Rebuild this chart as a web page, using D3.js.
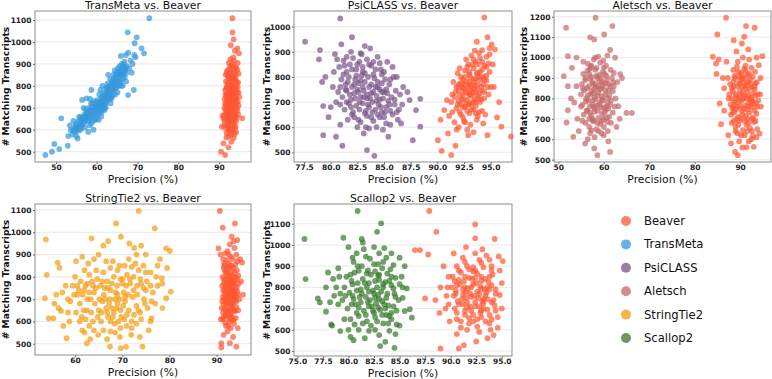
<!DOCTYPE html>
<html>
<head>
<meta charset="utf-8">
<script src="https://cdn.jsdelivr.net/npm/d3@7"></script>
<style>
  body { margin: 0; background: #fff; }
  svg { display: block; font-family: "DejaVu Sans", sans-serif; }
</style>
</head>
<body>
<div id="chart"></div>
<script>
// ---- data: [precision %, matching transcripts] ----
var transMetaPts = [[47.4,485],[49.0,500],[49.6,535],[50.8,512],[51.3,652],[52.9,527],[53.0,571],[53.6,598],[53.4,620],
  [54.0,578],[54.3,640],[54.6,590],[54.8,605],[55.0,572],[55.2,615],[55.5,640],[55.8,598],[55.3,560],[54.9,625],[55.7,660],[56.0,622],
  [56.2,605],[56.4,736],[56.5,645],[56.7,630],[56.9,668],[57.1,610],[57.3,650],[57.5,743],[57.6,678],[57.8,640],[57.9,590],[57.2,690],[56.8,700],[57.7,660],
  [58.0,700],[58.2,655],[58.3,620],[58.5,682],[58.6,720],[58.8,660],[59.0,705],[59.1,640],[59.3,690],[59.4,730],[59.6,668],[59.8,712],[59.9,650],[58.7,781],[59.2,600],[58.4,740],
  [60.0,690],[60.1,735],[60.3,670],[60.4,710],[60.6,760],[60.7,700],[60.9,781],[61.0,725],[61.2,680],[61.3,750],[61.5,705],[61.6,770],[61.8,735],[61.9,690],[60.5,645],[61.4,800],[61.1,660],
  [62.0,760],[62.1,720],[62.3,790],[62.4,745],[62.6,810],[62.7,770],[62.9,740],[63.0,800],[63.2,760],[63.3,830],[63.5,785],[63.6,745],[63.8,820],[63.9,775],[62.2,700],[62.8,850],[63.4,720],
  [64.0,810],[64.1,850],[64.3,790],[64.4,870],[64.6,830],[64.7,800],[64.9,860],[65.0,820],[65.2,880],[65.3,845],[65.5,800],[65.6,890],[65.8,850],[65.9,936],[64.5,760],[65.1,770],
  [66.0,870],[66.2,900],[66.3,830],[66.5,880],[66.6,850],[66.8,910],[67.0,870],[67.2,820],[67.4,890],[67.7,951],[67.6,1044],[67.7,758],[66.4,800],[67.1,940],
  [68.0,880],[68.3,915],[68.6,860],[69.1,781],[69.2,941],[69.3,994],[69.8,1021],[69.5,930],[71.0,971],[71.6,948],[72.9,1108],[68.8,900],
  [54.2,600],[54.7,615],[55.1,595],[55.6,612],[56.1,640],[56.3,620],[56.6,655],[57.0,635],[57.4,665],[57.8,675],[58.1,645],[58.4,690],[58.9,675],[59.2,665],[59.5,700],[59.7,685],
  [60.0,715],[60.2,700],[60.5,690],[60.8,730],[61.0,700],[61.2,745],[61.4,720],[61.7,710],[61.9,755],[62.1,740],[62.3,725],[62.5,765],[62.7,750],[62.9,780],[63.1,745],[63.3,770],
  [63.5,800],[63.7,790],[63.9,755],[64.1,780],[64.3,815],[64.5,800],[64.7,845],[64.9,825],[65.1,800],[65.3,860],[65.5,835],[65.7,870],[65.9,820],[66.1,850],[66.3,865],[66.5,895],
  [66.7,870],[66.9,840],[67.1,885],[67.3,860],[60.3,725],[61.6,740],[62.4,790],[63.0,765],[63.6,810],[64.2,835],[59.0,720],[58.0,680],[57.0,660],[56.0,655],[55.0,610],[60.6,675],
  [61.3,690],[62.0,705],[59.6,645],[58.7,630],[64.8,790],[65.6,815],[66.0,800],[63.4,740]];

var beaverVsTransMeta = [[93.3,1108],[93.3,1044],[93.6,1012],[94.5,971],[94.9,948],[93.9,960],[92.9,985],[93.5,930],[90.5,500],[91.5,485],[95.7,652],[90.7,614],[91.1,538],[92.3,520],[93.0,545],[91.8,565],[93.8,580],[92.6,595],
  [92.4,905],[93.1,890],[93.7,915],[94.2,885],[92.8,920],[93.4,898],[94.6,905],
  [91.9,860],[92.5,875],[93.0,845],[93.6,868],[94.1,850],[94.5,872],[92.2,842],[93.3,880],[94.8,855],
  [91.7,820],[92.1,805],[92.6,830],[93.0,812],[93.4,836],[93.8,805],[94.2,825],[94.7,815],[92.4,800],[93.2,825],[94.0,838],
  [91.5,780],[91.9,795],[92.3,770],[92.7,788],[93.1,765],[93.5,792],[93.9,775],[94.3,790],[94.8,770],[92.0,762],[93.3,778],[94.1,760],[92.9,800],
  [91.4,740],[91.8,755],[92.2,730],[92.6,748],[93.0,725],[93.4,752],[93.8,735],[94.2,745],[94.6,728],[95.0,750],[92.4,720],[93.6,760],[92.9,740],
  [91.3,700],[91.7,715],[92.1,690],[92.5,708],[92.9,685],[93.3,712],[93.7,695],[94.1,705],[94.5,688],[92.3,680],[93.5,720],[94.8,710],[91.9,685],
  [91.2,660],[91.6,672],[92.0,648],[92.4,665],[92.8,652],[93.2,675],[93.6,645],[94.0,668],[94.4,655],[91.4,640],[93.0,640],[94.7,670],[92.6,678],
  [91.3,620],[91.7,605],[92.1,630],[92.5,612],[92.9,625],[93.3,600],[93.7,635],[94.1,615],[92.7,640],[91.1,650],[90.9,665],
  [91.9,585],[92.4,570],[93.2,590],[93.6,562],[94.2,588],[92.8,578],
  [91.6,850],[92.0,870],[92.4,835],[92.8,860],[93.2,845],[93.6,830],[94.0,880],[94.4,815],[91.8,790],[92.2,815],[92.6,800],[93.0,790],[93.4,810],[93.8,795],[94.2,780],[94.6,795],
  [91.6,760],[92.0,740],[92.4,755],[92.8,770],[93.2,745],[93.6,775],[94.0,750],[94.4,770],[91.5,720],[91.9,730],[92.3,745],[92.7,725],[93.1,705],[93.5,735],[93.9,715],[94.3,725],
  [91.6,690],[92.0,705],[92.4,695],[92.8,700],[93.2,690],[93.6,705],[94.0,685],[94.4,700],[91.8,660],[92.2,675],[92.6,660],[93.0,670],[93.4,655],[93.8,680],[94.2,640],[92.0,620],
  [92.8,610],[93.5,620],[92.3,600],[93.9,605],[92.7,890],[93.5,855],[92.1,760],[93.0,760],[93.7,740],[92.5,785],[93.3,730],[92.9,715],[91.9,710],[94.1,740],[92.3,650],[93.1,640],[93.9,660]];

var psiClassPts = [[77.6,940],[79.0,907],[78.9,870],[80.9,1033],[82.0,958],[80.4,891],[81.0,930],[83.2,923],[83.7,914],[79.3,684],[79.3,568],[80.5,562],[81.1,526],[83.4,509],[84.1,486],[85.4,562],[87.7,548],[88.4,602],[88.0,668],[88.4,713],[87.4,708],[86.6,615],[79.2,780],[79.5,800],[80.2,760],[80.0,680],[79.8,640],[80.9,610],
  [80.8,840],[81.2,865],[81.5,820],[81.8,850],[82.1,875],[82.4,830],[82.7,860],[83.0,840],[83.4,870],[83.8,845],[84.2,830],[84.6,855],[85.0,820],
  [81.0,790],[81.4,770],[81.7,800],[82.0,760],[82.3,790],[82.6,775],[82.9,805],[83.2,780],[83.5,800],[83.8,770],[84.1,795],[84.4,780],[84.8,810],[85.1,790],[85.5,770],[85.9,800],
  [80.7,740],[81.1,720],[81.5,745],[81.9,710],[82.2,735],[82.5,750],[82.8,720],[83.1,745],[83.4,730],[83.7,715],[84.0,740],[84.3,725],[84.6,750],[84.9,715],[85.3,735],[85.7,720],[86.1,745],[86.5,730],
  [80.9,690],[81.3,670],[81.7,695],[82.1,660],[82.4,685],[82.7,670],[83.0,695],[83.3,665],[83.6,680],[83.9,700],[84.2,670],[84.5,690],[84.8,660],[85.2,680],[85.6,665],[86.0,690],[86.4,670],
  [81.6,630],[82.2,640],[82.8,620],[83.4,645],[84.0,625],[84.6,640],[85.2,615],[85.8,650],[86.3,630],[82.5,600],[83.6,595],[84.9,590],
  [81.9,900],[82.8,895],[84.4,880],[85.3,860],[86.2,800],[86.8,760],[87.2,740],[80.3,820],[80.6,870],[85.8,840],[83.1,575],[84.3,600],
  [81.2,810],[81.6,780],[82.0,830],[82.4,805],[82.8,785],[83.2,815],[83.6,760],[84.0,810],[84.4,760],[84.8,775],[85.2,750],[85.6,790],[81.4,750],[81.8,730],[82.2,770],[82.6,740],
  [83.0,760],[83.4,715],[83.8,735],[84.2,760],[84.6,710],[85.0,740],[85.4,705],[81.5,700],[81.9,680],[82.3,715],[82.7,700],[83.1,720],[83.5,690],[83.9,660],[84.3,705],[84.7,680],
  [85.1,660],[85.5,690],[82.0,650],[82.6,630],[83.2,655],[83.8,640],[84.4,650],[85.0,640],[81.3,845],[82.5,850],[83.6,850],[84.7,830],[80.9,760],[81.5,880],[86.0,710],[86.7,690],
  [86.2,660],[80.5,700],[82.9,890],[84.0,860],[83.3,600],[85.6,610],[84.8,740],[83.0,820]];

var beaverVsPsiClass = [[94.4,1037],[94.7,958],[93.7,940],[95.1,930],[94.2,907],[90.05,548],[90.4,506],[91.3,489],[91.7,526],[92.9,568],[94.7,568],[96.0,602],[95.6,639],[96.9,563],[90.65,668],[90.9,708],[94.8,854],[95.4,910],[94.9,915],[90.3,630],[91.0,575],[95.3,760],[95.8,700],
  [92.7,870],[93.2,885],[93.6,860],[94.0,875],[94.4,845],[93.9,895],[92.9,850],[94.6,880],
  [92.2,800],[92.6,825],[93.0,810],[93.4,835],[93.8,815],[94.2,830],[94.6,805],[92.4,790],[93.6,795],[94.9,820],[91.9,815],
  [91.8,760],[92.2,775],[92.6,750],[93.0,780],[93.4,755],[93.8,770],[94.2,745],[94.6,785],[92.0,745],[93.2,765],[94.0,790],[91.5,780],[95.0,760],
  [91.6,720],[92.0,705],[92.4,730],[92.8,710],[93.2,725],[93.6,700],[94.0,735],[94.4,715],[91.9,690],[93.0,695],[94.8,730],[91.3,700],[92.6,740],
  [91.4,660],[91.8,675],[92.2,650],[92.6,680],[93.0,655],[93.4,670],[93.8,645],[94.2,665],[92.4,640],[93.6,685],[91.1,645],[94.5,650],
  [91.6,620],[92.0,600],[92.5,625],[93.1,610],[93.7,630],[94.3,615],[92.8,590],[93.4,580],[91.8,590],
  [92.9,760],[93.3,740],[93.7,750],[93.1,800],[93.5,780],[92.5,770],[93.9,720],[92.3,710],[93.5,710],[94.1,760],[92.7,690],[93.3,850],[92.1,835],[94.3,800],[93.0,730],
  [92.3,760],[92.7,780],[93.1,745],[93.5,765],[93.9,800],[94.3,770],[92.1,725],[92.5,710],[92.9,735],[93.3,700],[93.7,725],[94.1,710],[92.4,680],[92.8,665],[93.2,690],[93.6,655],
  [94.0,700],[92.6,800],[93.0,820],[93.4,790],[93.8,850],[94.2,860],[94.6,840],[92.8,840],[93.4,870],[94.0,820],[94.4,790],[92.0,770],[92.2,690],[91.7,740],[93.6,740],[93.2,670],
  [92.6,620],[93.9,660],[94.4,740],[93.0,770],[92.4,755],[93.7,815],[93.1,730],[92.9,690],[91.4,730],[94.7,760],[95.2,850],[94.9,890],[93.5,905],[92.1,660]];

var aletschPts = [[58.2,1195],[51.7,1146],[61.9,1154],[52.1,1007],[51.2,909],[52.1,860],[60.1,1113],[57.0,1099],[57.9,1089],[61.4,1037],[51.8,682],[53.3,612],[55.9,579],[57.9,555],[58.6,522],[61.4,538],[66.2,729],[65.0,729],[63.2,762],[63.6,919],[52.1,742],[53.0,950],[54.0,1000],[55.5,980],[63.0,880],[64.0,900],[62.5,1000],[60.8,1010],[54.5,640],[56.5,600],[60.0,620],[61.0,590],[62.8,660],[63.5,700],[52.8,800],[53.5,780],[54.2,700],[54.0,860],
  [56.5,970],[57.8,990],[58.8,1005],[59.9,985],[60.5,960],[57.2,955],[59.2,975],
  [55.5,920],[56.4,935],[57.3,905],[58.1,940],[59.0,915],[59.8,930],[60.6,910],[61.5,940],[62.2,925],[56.9,945],[58.6,900],
  [55.2,870],[55.9,890],[56.7,860],[57.5,880],[58.3,855],[59.1,885],[59.9,865],[60.7,890],[61.4,860],[62.1,880],[57.0,895],[58.9,860],[60.3,875],
  [55.0,820],[55.7,840],[56.5,815],[57.3,835],[58.0,805],[58.8,830],[59.6,810],[60.4,840],[61.2,815],[62.0,835],[56.1,800],[59.2,845],[60.9,800],[57.7,825],
  [55.3,770],[56.1,785],[56.9,760],[57.6,790],[58.4,765],[59.2,780],[60.0,755],[60.8,775],[61.6,790],[62.4,760],[58.0,750],[59.6,795],
  [55.6,720],[56.4,740],[57.2,715],[58.0,735],[58.8,705],[59.6,725],[60.4,745],[61.2,710],[57.5,700],[59.9,700],[62.0,730],
  [56.0,680],[56.8,660],[57.6,690],[58.4,650],[59.2,675],[60.0,660],[60.8,685],[58.8,640],[57.3,645],
  [56.0,900],[56.8,920],[57.6,870],[58.4,910],[59.4,900],[60.2,920],[61.0,870],[56.3,850],[57.1,820],[57.9,845],[58.7,815],[59.5,850],[60.3,820],[61.1,840],[56.6,790],[57.4,770],
  [58.2,795],[59.0,770],[59.8,790],[60.6,760],[61.4,770],[56.2,740],[57.0,730],[57.8,760],[58.6,740],[59.4,755],[60.2,730],[61.0,750],[56.8,700],[57.8,690],[58.6,680],[59.6,690],
  [60.6,705],[58.2,870],[59.6,880],[57.2,960],[58.4,950],[60.0,950],[61.8,900],[55.4,850],[55.0,760],[62.6,800],[62.2,860],[57.0,630],[59.5,630],[58.0,610],[55.3,690],[61.6,680],
  [60.9,640],[58.1,1000]];

var beaverVsAletsch = [[86.9,1195],[85.0,1113],[91.3,1154],[93.2,1146],[90.9,1102],[88.6,1085],[90.4,1069],[84.0,1004],[84.7,971],[85.3,991],[94.9,1007],[94.1,963],[85.5,775],[85.8,674],[88.9,538],[89.5,522],[93.0,563],[94.3,628],[84.8,920],[86.2,900],[86.5,850],[87.0,980],[89.2,1030],[91.8,1040],[93.6,1000],[94.5,900],[87.4,620],[88.0,580],[90.5,560],[91.9,590],[93.8,650],[86.5,740],[94.6,760],[94.4,820],
  [88.5,940],[89.3,955],[90.1,925],[90.9,945],[91.7,915],[92.5,950],[93.3,930],[89.8,905],[91.2,960],
  [87.8,870],[88.6,885],[89.4,860],[90.2,890],[91.0,865],[91.8,880],[92.6,855],[93.4,875],[88.2,850],[90.6,895],[92.2,892],
  [87.6,820],[88.4,835],[89.2,810],[90.0,840],[90.8,815],[91.6,830],[92.4,805],[93.2,845],[93.9,820],[89.6,800],[91.2,848],[92.8,825],
  [87.9,770],[88.7,785],[89.5,760],[90.3,790],[91.1,765],[91.9,780],[92.7,755],[93.5,775],[88.3,752],[90.7,798],[92.3,795],
  [88.0,720],[88.8,735],[89.6,710],[90.4,740],[91.2,715],[92.0,730],[92.8,705],[93.6,725],[89.2,748],[91.6,700],
  [88.2,680],[89.0,660],[89.8,690],[90.6,645],[91.4,670],[92.2,655],[93.0,685],[89.4,630],[91.0,620],[92.6,640],
  [90.0,870],[91.4,800],[92.0,850],[89.0,780],[90.5,720],[91.8,760],[92.9,780],[89.9,820],[91.0,900],[88.9,900],
  [88.8,910],[89.6,930],[90.4,915],[91.2,935],[92.0,920],[92.8,905],[88.6,860],[89.8,875],[90.6,855],[91.4,875],[92.4,870],[93.2,860],[88.2,800],[89.0,820],[89.8,790],[90.6,825],
  [91.8,810],[92.6,790],[93.4,815],[88.4,730],[89.2,700],[90.0,765],[90.8,750],[91.6,745],[92.4,770],[93.2,740],[93.8,760],[88.6,690],[89.6,670],[90.2,700],[91.0,690],[91.8,680],
  [92.6,700],[93.4,690],[89.0,640],[90.2,620],[91.6,640],[92.8,615],[93.6,610],[87.5,800],[87.3,900],[92.0,990],[90.6,1000],[89.5,980],[93.7,880],[94.0,790],[91.4,560],[89.8,590],
  [92.5,600],[88.5,760]];

var stringTiePts = [[53.8,968],[54.0,809],[53.6,704],[54.4,614],[55.4,614],[56.3,864],[56.7,841],[57.0,647],[58.2,525],[62.5,502],[63.5,973],[67.4,487],[68.7,1040],[69.7,980],[69.7,480],[70.8,486],[73.5,1096],[74.3,487],[76.9,1018],[76.2,614],[79.3,928],[80.1,916],[80.3,734],[79.3,704],[78.4,794],
  [56.0,720],[57.3,730],[58.0,760],[58.5,700],[59.0,690],[60.0,800],[60.2,870],[61.5,890],[62.0,830],[61.0,600],[61.5,560],[62.0,550],[63.0,580],[62.5,650],[60.5,720],[64.0,560],[65.0,900],[66.0,940],[67.0,960],[71.5,950],[72.5,930],[73.0,900],[74.0,940],[75.0,900],[77.5,850],[78.0,880],[79.5,840],[78.5,660],[77.0,680],[76.0,600],[72.0,570],[73.0,590],[69.5,530],[68.5,550],[66.0,560],[67.5,600],
  [60.5,760],[61.2,780],[61.9,740],[62.6,770],[63.3,700],[64.0,730],[64.7,790],[65.4,760],[66.1,720],[66.8,780],[67.5,740],[68.2,800],[68.9,760],[69.6,790],[70.3,730],[71.0,810],[71.7,770],[72.4,800],[73.1,760],[73.8,790],[74.5,750],[75.2,780],[76.0,760],
  [61.0,680],[61.8,650],[62.6,700],[63.4,640],[64.2,680],[65.0,650],[65.8,690],[66.6,660],[67.4,700],[68.2,640],[69.0,680],[69.8,620],[70.6,690],[71.4,650],[72.2,710],[73.0,670],[73.8,640],[74.6,700],[75.4,660],
  [64.5,830],[66.0,820],[67.5,840],[69.0,830],[70.5,850],[72.0,845],[73.5,830],[75.0,820],[63.0,810],[68.5,700],[70.0,770],[71.2,720],[69.2,600],[70.4,610],[68.0,620],[67.0,620],[65.5,600],[72.5,630],[74.0,610],[66.3,750],[63.8,760],[76.5,730],[77.5,760],[78.5,770],
  [60.8,740],[61.6,720],[62.2,760],[63.0,730],[63.6,780],[64.4,750],[65.2,700],[65.8,780],[66.4,700],[67.0,750],[67.8,770],[68.6,730],[69.4,700],[70.1,790],[70.8,760],[71.6,790],
  [72.4,740],[73.2,720],[74.0,770],[75.0,740],[60.2,640],[61.4,620],[62.2,610],[63.8,600],[64.8,620],[65.6,640],[66.8,640],[67.8,660],[68.8,660],[69.6,650],[70.2,670],[71.0,630],
  [72.0,600],[73.4,650],[74.8,680],[76.2,690],[58.5,640],[59.5,760],[59.8,720],[62.8,860],[64.0,880],[66.6,870],[68.0,870],[69.4,850],[71.4,880],[72.8,860],[74.5,850],[76.0,820],
  [77.2,800],[68.4,590],[69.6,570],[70.9,580],[67.5,555],[71.9,540],[64.9,540],[63.2,520],[66.8,520],[73.7,530],[75.6,560],[57.5,580],[58.8,600],[55.6,680],[56.5,660],[70.6,710],
  [69.0,720],[67.2,680]];

var beaverVsStringTie = [[90.7,1096],[91.3,1021],[93.9,1040],[93.2,980],[94.4,965],[90.4,928],[92.8,946],[95.4,864],[91.0,483],[91.0,502],[94.2,487],[92.8,502],[93.6,960],[91.8,905],[92.3,915],[93.8,930],[90.8,900],[95.0,880],[91.5,540],[93.5,530],[92.3,555],[94.5,570],[90.9,610],[95.2,780],[95.6,720],
  [91.6,860],[92.2,875],[92.8,850],[93.4,880],[94.0,855],[94.4,870],[92.5,845],
  [91.3,800],[91.8,825],[92.3,810],[92.8,835],[93.3,805],[93.8,820],[94.3,830],[91.5,840],[93.0,790],[94.6,805],
  [91.2,760],[91.6,775],[92.0,750],[92.5,780],[92.9,765],[93.4,745],[93.9,785],[94.3,755],[91.8,740],[93.1,775],[94.7,770],
  [91.3,710],[91.7,725],[92.1,700],[92.6,730],[93.0,705],[93.5,720],[93.9,695],[94.4,735],[92.3,690],[93.3,740],[94.8,700],
  [91.1,660],[91.5,675],[92.0,650],[92.4,680],[92.9,655],[93.3,670],[93.8,645],[94.2,665],[91.4,640],[93.1,685],[94.6,650],
  [91.3,610],[91.8,595],[92.2,625],[92.7,600],[93.2,620],[93.7,590],[94.1,615],[92.5,580],[93.4,605],[91.6,625],
  [92.0,790],[92.7,760],[93.6,770],[92.4,720],[93.0,740],[93.7,700],[92.2,660],[92.8,630],[93.5,650],[91.9,700],[92.6,810],[93.2,850],[92.0,820],[93.9,740],[92.9,680],
  [91.7,850],[92.1,830],[92.6,860],[93.1,820],[93.6,840],[94.1,800],[91.5,790],[92.0,770],[92.4,800],[92.9,790],[93.4,780],[93.9,760],[94.4,790],[91.4,740],[91.9,760],[92.3,740],
  [92.8,745],[93.3,760],[93.7,730],[94.2,715],[91.6,700],[92.0,720],[92.5,710],[92.9,720],[93.4,695],[93.8,710],[94.2,690],[91.6,660],[92.1,680],[92.6,650],[93.0,670],[93.5,680],
  [94.0,650],[91.8,620],[92.4,640],[93.0,630],[93.6,610],[92.0,580],[93.0,570],[92.6,900],[93.1,890],[94.2,900],[91.4,880],[92.7,700],[93.2,715],[91.2,690],[94.5,720],[93.6,800],
  [92.2,770],[92.8,610]];

var scallopPts = [[75.7,1028],[75.8,839],[80.9,1160],[83.2,1102],[82.8,1062],[79.5,1034],[81.3,1028],[81.4,1012],[77.0,748],[77.2,729],[77.8,685],[78.3,625],[78.4,620],[79.2,594],[80.5,551],[80.2,566],[83.1,523],[84.5,515],[83.6,543],[85.5,688],[86.2,657],[86.0,697],[85.7,795],[78.0,870],[78.5,840],[79.0,890],[80.0,990],[80.8,960],[82.5,990],[83.5,985],[84.2,960],[85.0,940],[85.5,900],[78.8,800],[79.0,720],[79.6,650],[81.0,600],[82.0,595],[84.0,595],[85.0,620],[85.3,750],[84.6,580],
  [80.5,920],[81.3,900],[82.1,935],[82.9,910],[83.7,940],[81.7,945],[83.3,890],[84.4,905],
  [79.8,850],[80.6,870],[81.4,840],[82.2,860],[83.0,835],[83.8,865],[84.6,845],[81.0,878],[82.6,875],
  [79.6,800],[80.4,815],[81.2,790],[82.0,820],[82.8,800],[83.6,825],[84.4,795],[85.0,815],[80.8,785],[82.4,785],[83.2,780],
  [79.7,760],[80.5,745],[81.3,770],[82.1,740],[82.9,765],[83.7,750],[84.5,770],[80.1,775],[81.7,755],[83.3,735],[84.9,740],
  [79.9,700],[80.7,720],[81.5,690],[82.3,710],[83.1,695],[83.9,715],[84.7,690],[81.0,705],[82.7,725],[84.2,680],
  [80.2,650],[81.0,665],[81.8,640],[82.6,660],[83.4,630],[84.2,650],[80.6,625],[82.2,620],[83.7,670],
  [82.0,780],[82.6,750],[83.0,860],[81.6,820],[83.4,800],[82.4,690],[81.9,730],[83.6,700],[80.3,830],[84.0,830],
  [80.9,900],[81.9,880],[82.5,910],[83.4,920],[84.1,885],[80.2,860],[81.8,865],[82.9,855],[84.2,850],[80.9,820],[81.8,800],[82.6,830],[83.4,815],[84.2,810],[80.4,760],[81.1,755],
  [82.5,770],[83.0,745],[83.8,770],[84.6,755],[80.3,720],[81.2,730],[82.0,710],[82.9,705],[83.5,720],[84.4,710],[80.8,680],[81.7,670],[82.5,680],[83.3,670],[84.0,665],[81.4,630],
  [82.8,640],[83.9,630],[80.0,600],[82.6,600],[83.0,575],[81.6,560],[84.7,625],[85.2,850],[85.3,800],[79.2,770],[79.1,850],[79.4,740],[78.6,760],[77.8,800],[78.2,730],[80.4,940],
  [83.0,960],[81.5,980]];

var beaverVsScallop = [[87.9,1160],[88.6,1062],[87.0,976],[86.5,976],[87.8,955],[87.5,748],[88.5,740],[89.0,512],[90.8,512],[91.3,528],[92.4,1097],[92.4,1031],[94.3,1028],[95.1,924],[94.7,946],[94.8,764],[94.2,575],[89.3,900],[89.8,850],[89.0,800],[89.5,700],[89.9,640],[90.3,960],[91.5,990],[93.1,980],[93.5,950],[94.0,880],[95.0,820],[94.6,660],[93.6,560],[92.5,545],[90.6,580],
  [90.6,900],[91.4,920],[92.2,895],[93.0,915],[91.8,885],[92.8,930],
  [90.2,850],[91.0,870],[91.8,845],[92.6,865],[93.4,840],[94.1,860],[90.8,835],[92.2,875],
  [90.1,800],[90.9,815],[91.7,795],[92.5,820],[93.3,790],[94.0,810],[91.3,828],[92.9,805],[93.7,825],[90.5,785],
  [90.3,760],[91.1,745],[91.9,770],[92.7,750],[93.5,775],[94.2,740],[90.7,735],[92.3,760],[93.1,735],[91.5,778],
  [90.4,700],[91.2,720],[92.0,690],[92.8,710],[93.6,695],[94.3,715],[91.6,705],[93.2,725],
  [90.6,650],[91.4,670],[92.2,640],[93.0,660],[93.8,630],[91.0,610],[92.6,615],[94.0,650],[91.8,655],
  [92.0,800],[92.6,780],[93.0,850],[91.5,750],[92.4,730],[93.4,760],[91.9,710],[92.9,680],[93.8,790],[91.2,790],[92.1,840],[93.2,700],
  [90.8,880],[91.6,900],[92.4,880],[93.2,895],[94.0,900],[90.4,830],[91.4,850],[92.4,845],[93.0,830],[93.8,850],[90.6,810],[91.4,800],[92.2,815],[93.0,795],[93.6,800],[94.4,790],
  [90.5,770],[91.2,765],[92.0,755],[92.8,770],[93.6,745],[94.4,770],[90.8,720],[91.6,730],[92.4,710],[93.2,745],[94.0,730],[90.6,680],[91.4,690],[92.2,670],[93.0,690],[93.8,670],
  [94.4,690],[91.0,640],[91.8,630],[92.6,650],[93.4,640],[91.6,600],[92.8,590],[93.9,600],[94.6,610],[89.6,760],[89.8,720],[89.7,800],[88.9,680],[94.8,880],[95.0,700],[92.4,960],
  [91.2,940],[93.8,930]];

// tick values
var xTicksTransMeta = [50, 60, 70, 80, 90];
var yTicksTransMeta = [500, 600, 700, 800, 900, 1000, 1100];
var xTicksPsiClass = [77.5, 80, 82.5, 85, 87.5, 90, 92.5, 95];
var yTicksPsiClass = [500, 600, 700, 800, 900, 1000];
var xTicksAletsch = [50, 60, 70, 80, 90];
var yTicksAletsch = [500, 600, 700, 800, 900, 1000, 1100, 1200];
var xTicksStringTie = [60, 70, 80, 90];
var yTicksStringTie = [500, 600, 700, 800, 900, 1000, 1100];
var xTicksScallop = [75, 77.5, 80, 82.5, 85, 87.5, 90, 92.5, 95];
var yTicksScallop = [500, 600, 700, 800, 900, 1000, 1100];

var methodNames = ["Beaver", "TransMeta", "PsiCLASS", "Aletsch", "StringTie2", "Scallop2"];
var methodColors = ["#FF5733", "#3498DB", "#7A5287", "#C46A6A", "#F39C12", "#36782A"];

var color = d3.scaleOrdinal().domain(methodNames).range(methodColors);

var W = 772, H = 379;
var svg = d3.select("#chart").append("svg")
    .attr("width", W)
    .attr("height", H);

svg.append("rect").attr("width", W).attr("height", H).attr("fill", "#fff");

// panel layout (left, top, right, bottom) and axis ranges
var panels = [
    {name: "TransMeta", pts: transMetaPts, beaver: beaverVsTransMeta, box: [35, 11, 251, 162],
     xDom: [44.85, 97.85], yDom: [453, 1141], xTicks: xTicksTransMeta, yTicks: yTicksTransMeta, xFmt: d3.format("d")},
    {name: "PsiCLASS", pts: psiClassPts, beaver: beaverVsPsiClass, box: [294, 11, 512, 162],
     xDom: [76.56, 97.0], yDom: [461.4, 1062.5], xTicks: xTicksPsiClass, yTicks: yTicksPsiClass, xFmt: d3.format(".1f")},
    {name: "Aletsch", pts: aletschPts, beaver: beaverVsAletsch, box: [554, 11, 771, 162],
     xDom: [49.05, 96.8], yDom: [488.7, 1228], xTicks: xTicksAletsch, yTicks: yTicksAletsch, xFmt: d3.format("d")},
    {name: "StringTie2", pts: stringTiePts, beaver: beaverVsStringTie, box: [35, 204, 251, 355],
     xDom: [51.5, 97.3], yDom: [449.3, 1127], xTicks: xTicksStringTie, yTicks: yTicksStringTie, xFmt: d3.format("d")},
    {name: "Scallop2", pts: scallopPts, beaver: beaverVsScallop, box: [294, 204, 512, 356],
     xDom: [74.67, 96.0], yDom: [476.4, 1193], xTicks: xTicksScallop, yTicks: yTicksScallop, xFmt: d3.format(".1f")}
];

panels.forEach(function(p) {
    var b = p.box;
    var x = d3.scaleLinear().domain(p.xDom).range([b[0], b[2]]);
    var y = d3.scaleLinear().domain(p.yDom).range([b[3], b[1]]);
    var g = svg.append("g");

    // horizontal grid
    g.selectAll(".grid").data(p.yTicks).enter().append("line")
        .attr("x1", b[0]).attr("x2", b[2])
        .attr("y1", function(d) { return y(d); })
        .attr("y2", function(d) { return y(d); })
        .attr("stroke", "#e3e3e3")
        .attr("stroke-width", 0.8);

    // points
    g.selectAll(".pm").data(p.pts).enter().append("circle")
        .attr("cx", function(d) { return x(d[0]); })
        .attr("cy", function(d) { return y(d[1]); })
        .attr("r", 2.9)
        .attr("fill", color(p.name))
        .attr("fill-opacity", 0.7);
    g.selectAll(".pb").data(p.beaver).enter().append("circle")
        .attr("cx", function(d) { return x(d[0]); })
        .attr("cy", function(d) { return y(d[1]); })
        .attr("r", 2.9)
        .attr("fill", color("Beaver"))
        .attr("fill-opacity", 0.7);

    // axes
    var xAxis = d3.axisBottom(x).tickValues(p.xTicks).tickFormat(p.xFmt).tickSize(2).tickPadding(1);
    var yAxis = d3.axisLeft(y).tickValues(p.yTicks).tickFormat(d3.format("d")).tickSize(2).tickPadding(1.5);
    var gx = g.append("g").attr("transform", "translate(0," + b[3] + ")").call(xAxis);
    var gy = g.append("g").attr("transform", "translate(" + b[0] + ",0)").call(yAxis);
    [gx, gy].forEach(function(a) {
        a.select(".domain").remove();
        a.selectAll(".tick line").attr("stroke", "#666");
        a.selectAll("text")
            .attr("fill", "#222")
            .style("font-size", "7.5px")
            .style("font-weight", "bold")
            .style("font-family", "DejaVu Sans");
    });

    // frame
    g.append("rect")
        .attr("x", b[0]).attr("y", b[1])
        .attr("width", b[2] - b[0]).attr("height", b[3] - b[1])
        .attr("fill", "none")
        .attr("stroke", "#8c8c8c")
        .attr("stroke-width", 1);

    // title
    g.append("text")
        .attr("x", (b[0] + b[2]) / 2)
        .attr("y", b[1] - 2.5)
        .attr("text-anchor", "middle")
        .style("font-size", "10.8px")
        .attr("fill", "#111")
        .text(p.name + " vs. Beaver");

    // x label
    g.append("text")
        .attr("x", (b[0] + b[2]) / 2)
        .attr("y", b[3] + 20.5)
        .attr("text-anchor", "middle")
        .style("font-size", "10.8px")
        .attr("fill", "#111")
        .text("Precision (%)");

    // y label
    var lx = b[0] - (p.name === "Aletsch" ? 30.7 : (p.name === "PsiCLASS" || p.name === "Scallop2" ? 27.6 : 29.3));
    g.append("text")
        .attr("transform", "translate(" + lx + "," + (b[1] + b[3]) / 2 + ") rotate(-90)")
        .attr("text-anchor", "middle")
        .attr("dy", "0.35em")
        .style("font-size", "9.2px")
        .style("font-weight", "bold")
        .attr("fill", "#111")
        .text("# Matching Transcripts");
});

// legend
var legend = svg.selectAll(".legend")
    .data(methodNames)
    .enter().append("g")
    .attr("transform", function(d, i) { return "translate(626," + (221 + i * 23.4) + ")"; });

legend.append("circle")
    .attr("r", 5)
    .attr("fill", function(d) { return color(d); })
    .attr("fill-opacity", 0.75);

legend.append("text")
    .attr("x", 18)
    .attr("dy", "0.35em")
    .style("font-size", "11.6px")
    .attr("fill", "#111")
    .text(function(d) { return d; });
</script>
</body>
</html>
